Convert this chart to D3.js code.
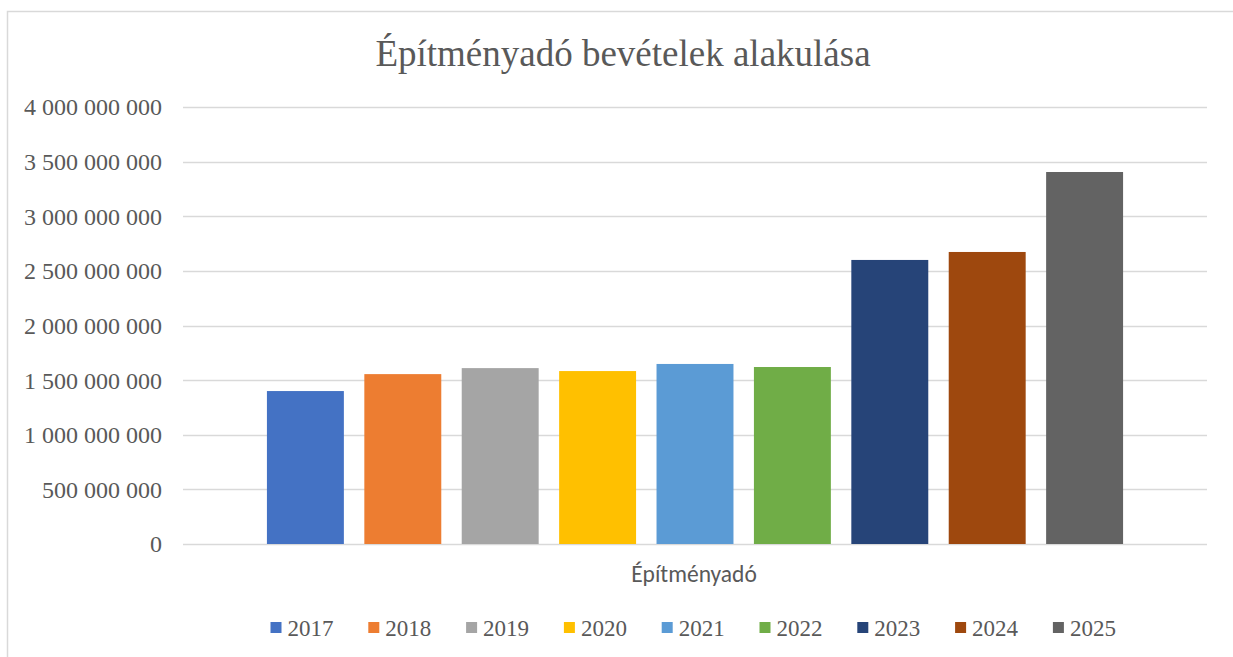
<!DOCTYPE html>
<html>
<head>
<meta charset="utf-8">
<script src="https://cdn.jsdelivr.net/npm/d3@7"></script>
<style>
  body { margin: 0; background: #fff; }
</style>
</head>
<body>
<svg id="chart" width="1233" height="657"></svg>
<script>
var years = ["2017", "2018", "2019", "2020", "2021", "2022", "2023", "2024", "2025"];
var values = [1400000000, 1555000000, 1610000000, 1583000000, 1648000000, 1620000000, 2600000000, 2673000000, 3405000000];
var colors = ["#4472c4", "#ed7d31", "#a5a5a5", "#ffc000", "#5b9bd5", "#70ad47", "#264478", "#9e480e", "#636363"];
var yTicks = [0, 500000000, 1000000000, 1500000000, 2000000000, 2500000000, 3000000000, 3500000000, 4000000000];
var title = "Építményadó bevételek alakulása";
var category = "Építményadó";

var svg = d3.select("#chart");
var serifFont = "Tinos, 'Times New Roman'";
var textColor = "#595959";

// outer chart frame
svg.append("rect")
    .attr("x", 7.5)
    .attr("y", 11.5)
    .attr("width", 1240)
    .attr("height", 660)
    .attr("fill", "#fff")
    .attr("stroke", "#d9d9d9")
    .attr("stroke-width", 1.5);

var plot = { left: 183, right: 1207, top: 107, bottom: 544 };

var y = d3.scaleLinear()
    .domain([0, 4000000000])
    .range([plot.bottom, plot.top]);

var x = d3.scaleBand()
    .domain(years)
    .range([plot.left + 73.7, plot.right - 73.7])
    .paddingInner(0.21)
    .paddingOuter(0.105);

var fmt = function (d) {
    return d3.format(",")(d).replace(/,/g, " ");
};

// gridlines
svg.append("g")
    .selectAll("line")
    .data(yTicks)
    .enter()
    .append("line")
    .attr("x1", plot.left)
    .attr("x2", plot.right)
    .attr("y1", function (d) { return Math.round(y(d)) + 0.5; })
    .attr("y2", function (d) { return Math.round(y(d)) + 0.5; })
    .attr("stroke", "#d9d9d9")
    .attr("stroke-width", 1.5);

// y labels
svg.append("g")
    .selectAll("text")
    .data(yTicks)
    .enter()
    .append("text")
    .attr("x", 162)
    .attr("y", function (d) { return y(d); })
    .attr("dy", "0.35em")
    .attr("text-anchor", "end")
    .attr("fill", textColor)
    .attr("font-family", serifFont)
    .attr("font-size", "24px")
    .text(fmt);

// bars
svg.append("g")
    .selectAll("rect")
    .data(years)
    .enter()
    .append("rect")
    .attr("x", function (d) { return x(d); })
    .attr("width", x.bandwidth())
    .attr("y", function (d, i) { return y(values[i]); })
    .attr("height", function (d, i) { return y(0) - y(values[i]); })
    .attr("fill", function (d, i) { return colors[i]; });

// title
svg.append("text")
    .attr("x", 623)
    .attr("y", 66)
    .attr("text-anchor", "middle")
    .attr("fill", textColor)
    .attr("font-family", serifFont)
    .attr("font-size", "37px")
    .text(title);

// category label
svg.append("text")
    .attr("x", 694)
    .attr("y", 582)
    .attr("text-anchor", "middle")
    .attr("fill", textColor)
    .attr("font-family", "Carlito")
    .attr("font-size", "23.5px")
    .text(category);

// legend
var legend = svg.append("g")
    .selectAll("g")
    .data(years)
    .enter()
    .append("g")
    .attr("transform", function (d, i) { return "translate(" + (270.5 + i * 97.8) + ",0)"; });

legend.append("rect")
    .attr("x", 0)
    .attr("y", 622)
    .attr("width", 11)
    .attr("height", 11)
    .attr("fill", function (d, i) { return colors[i]; });

legend.append("text")
    .attr("x", 17)
    .attr("y", 636)
    .attr("fill", textColor)
    .attr("font-family", serifFont)
    .attr("font-size", "23px")
    .text(function (d) { return d; });
</script>
</body>
</html>
